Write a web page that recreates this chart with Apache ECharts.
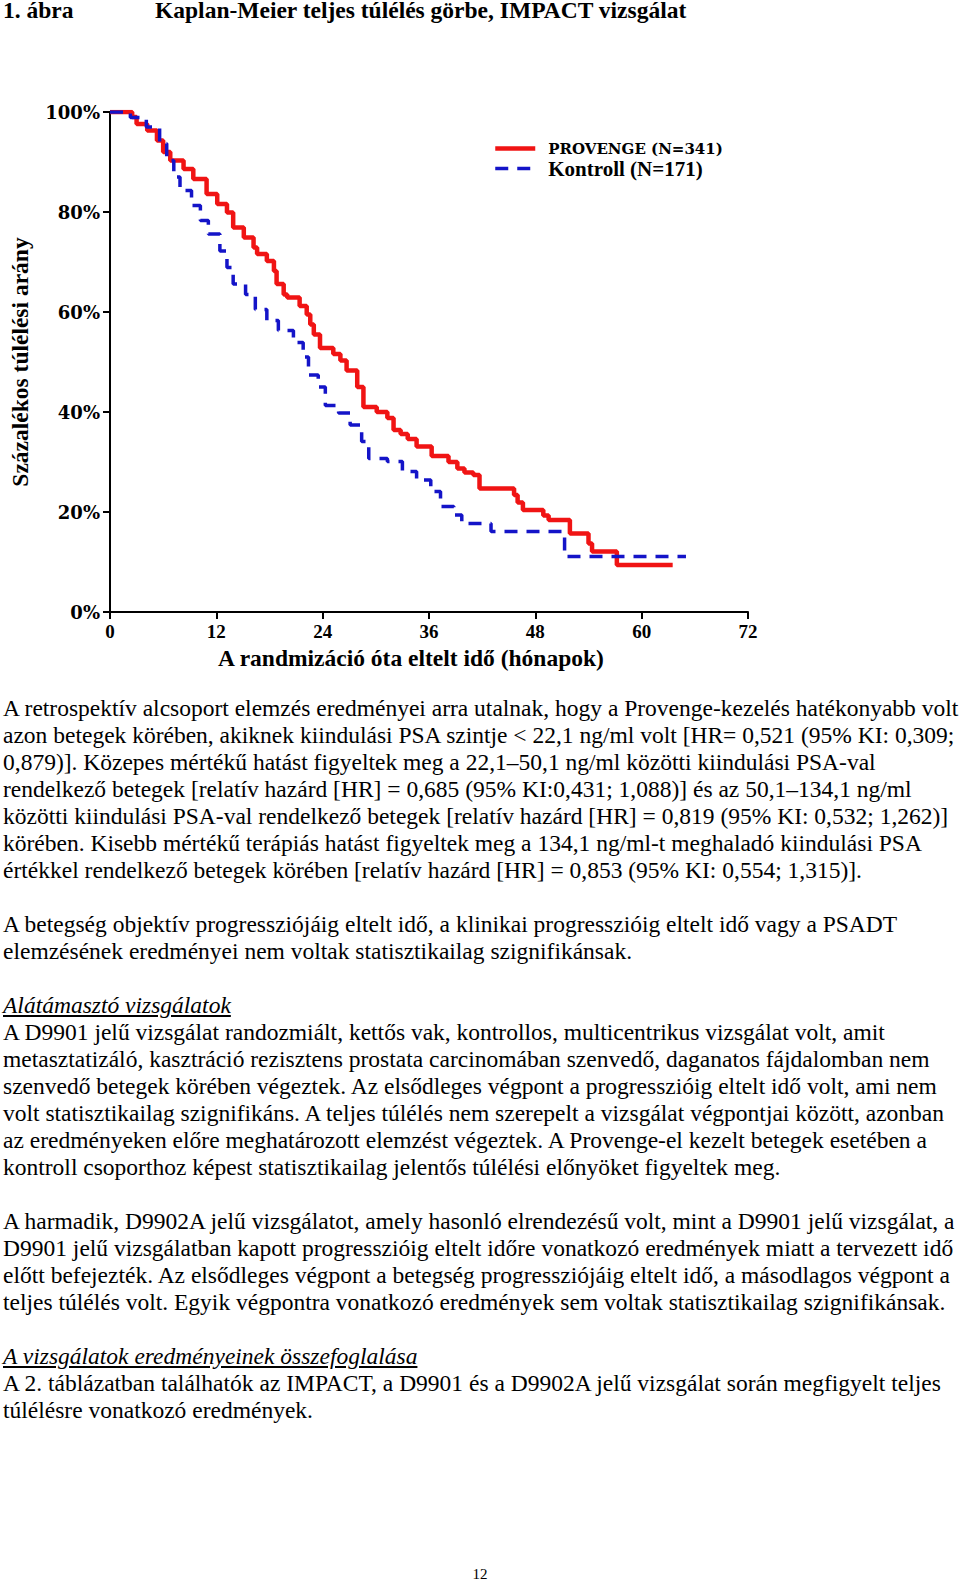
<!DOCTYPE html>
<html>
<head>
<meta charset="utf-8">
<script src="https://cdn.jsdelivr.net/npm/echarts@6/dist/echarts.min.js"></script>
<style>
html,body{margin:0;padding:0;background:#fff;}
body{width:960px;height:1592px;position:relative;overflow:hidden;font-family:"Liberation Serif","Times New Roman",serif;color:#000;}
#chart{position:absolute;left:0;top:0;width:960px;height:690px;}
.title{position:absolute;top:-3px;font-weight:bold;font-size:23.5px;line-height:27px;white-space:nowrap;}
#text{position:absolute;left:3px;top:694.5px;font-size:23.5px;line-height:27px;}
#text div{height:27px;white-space:nowrap;}
.h{font-style:italic;text-decoration:underline;}
#pnum{position:absolute;left:0;width:960px;text-align:center;top:1566px;font-size:15px;line-height:17px;}
</style>
</head>
<body>
<div id="chart"></div>
<div class="title" style="left:3px;">1. ábra</div>
<div class="title" style="left:155px;">Kaplan-Meier teljes túlélés görbe, IMPACT vizsgálat</div>
<div id="text">
<div>A retrospektív alcsoport elemzés eredményei arra utalnak, hogy a Provenge-kezelés hatékonyabb volt</div>
<div>azon betegek körében, akiknek kiindulási PSA szintje &lt; 22,1 ng/ml volt [HR= 0,521 (95% KI: 0,309;</div>
<div>0,879)]. Közepes mértékű hatást figyeltek meg a 22,1–50,1 ng/ml közötti kiindulási PSA-val</div>
<div>rendelkező betegek [relatív hazárd [HR] = 0,685 (95% KI:0,431; 1,088)] és az 50,1–134,1 ng/ml</div>
<div>közötti kiindulási PSA-val rendelkező betegek [relatív hazárd [HR] = 0,819 (95% KI: 0,532; 1,262)]</div>
<div>körében. Kisebb mértékű terápiás hatást figyeltek meg a 134,1 ng/ml-t meghaladó kiindulási PSA</div>
<div>értékkel rendelkező betegek körében [relatív hazárd [HR] = 0,853 (95% KI: 0,554; 1,315)].</div>
<div></div>
<div>A betegség objektív progressziójáig eltelt idő, a klinikai progresszióig eltelt idő vagy a PSADT</div>
<div>elemzésének eredményei nem voltak statisztikailag szignifikánsak.</div>
<div></div>
<div><span class="h">Alátámasztó vizsgálatok</span></div>
<div>A D9901 jelű vizsgálat randozmiált, kettős vak, kontrollos, multicentrikus vizsgálat volt, amit</div>
<div>metasztatizáló, kasztráció rezisztens prostata carcinomában szenvedő, daganatos fájdalomban nem</div>
<div>szenvedő betegek körében végeztek. Az elsődleges végpont a progresszióig eltelt idő volt, ami nem</div>
<div>volt statisztikailag szignifikáns. A teljes túlélés nem szerepelt a vizsgálat végpontjai között, azonban</div>
<div>az eredményeken előre meghatározott elemzést végeztek. A Provenge-el kezelt betegek esetében a</div>
<div>kontroll csoporthoz képest statisztikailag jelentős túlélési előnyöket figyeltek meg.</div>
<div></div>
<div>A harmadik, D9902A jelű vizsgálatot, amely hasonló elrendezésű volt, mint a D9901 jelű vizsgálat, a</div>
<div>D9901 jelű vizsgálatban kapott progresszióig eltelt időre vonatkozó eredmények miatt a tervezett idő</div>
<div>előtt befejezték. Az elsődleges végpont a betegség progressziójáig eltelt idő, a másodlagos végpont a</div>
<div>teljes túlélés volt. Egyik végpontra vonatkozó eredmények sem voltak statisztikailag szignifikánsak.</div>
<div></div>
<div><span class="h">A vizsgálatok eredményeinek összefoglalása</span></div>
<div>A 2. táblázatban találhatók az IMPACT, a D9901 és a D9902A jelű vizsgálat során megfigyelt teljes</div>
<div>túlélésre vonatkozó eredmények.</div>
</div>
<div id="pnum">12</div>
<script>
// ---- data ----
const seriesNames = ['PROVENGE (N=341)', 'Kontroll (N=171)'];
const xAxisTitle = 'A randmizáció óta eltelt idő (hónapok)';
const yAxisTitle = 'Százalékos túlélési arány';
const xTicks = [0, 12, 24, 36, 48, 60, 72];
const yTicks = [0, 20, 40, 60, 80, 100];

const provengeTime = [0, 2.5, 3.0, 4.2, 5.3, 6.0, 6.8, 8.3, 9.4, 10.9, 12.1, 13.2, 13.9, 15.1, 16.2, 16.6, 17.7, 18.5, 18.8, 19.6, 20.0, 21.4, 22.2, 22.6, 23.0, 23.7, 25.2, 26.0, 26.7, 27.9, 28.6, 30.1, 31.3, 32.0, 32.8, 33.6, 34.6, 36.3, 38.2, 39.2, 40.0, 41.0, 41.7, 45.6, 46.0, 46.6, 48.9, 49.5, 51.9, 54.0, 54.4, 57.2, 63.5];
const provengeSurv = [100, 99.0, 97.6, 96.3, 94.3, 92.0, 90.3, 88.6, 86.6, 83.6, 81.6, 79.9, 76.9, 74.9, 72.9, 71.6, 70.2, 68.2, 65.6, 63.5, 62.9, 61.2, 59.5, 57.5, 55.5, 52.8, 51.6, 50.3, 48.3, 45.0, 41.0, 40.0, 38.8, 36.4, 35.6, 34.6, 33.1, 31.2, 30.0, 28.7, 27.9, 27.4, 24.7, 23.4, 21.9, 20.4, 19.3, 18.4, 15.7, 13.7, 12.1, 9.4, 9.4];

const kontrollTime = [0, 2.3, 4.1, 5.6, 6.4, 7.2, 7.9, 9.2, 10.2, 11.1, 12.4, 13.2, 13.9, 15.3, 16.4, 17.7, 19.0, 20.7, 21.8, 22.4, 23.5, 24.3, 25.8, 27.1, 28.4, 29.2, 31.3, 33.0, 34.6, 36.2, 37.3, 38.8, 39.7, 43.0, 51.3, 65.0];
const kontrollSurv = [100, 98.9, 97.0, 93.7, 90.3, 87.0, 84.3, 81.3, 78.3, 75.6, 72.2, 68.9, 65.6, 63.5, 60.5, 58.3, 56.3, 53.9, 51.0, 47.4, 45.0, 41.3, 39.8, 37.4, 34.1, 30.7, 30.1, 28.1, 26.4, 24.1, 21.1, 19.4, 17.7, 16.1, 11.1, 11.1];

function zip(a, b) { return a.map((v, i) => [v, b[i]]); }

const chart = echarts.init(document.getElementById('chart'), null, { renderer: 'svg' });
const axisFontTitle = { fontFamily: 'Liberation Serif', fontWeight: 'bold', fontSize: 23.5, color: '#000' };
chart.setOption({
  animation: false,
  grid: { left: 110, top: 112, width: 638, height: 500 },
  legend: {
    orient: 'vertical', left: 488, top: 136, itemWidth: 40, itemHeight: 14, itemGap: 2,
    itemStyle: { opacity: 0, borderWidth: 0 },
    textStyle: { color: '#000', padding: [0, 0, 0, 8] },
    data: [
      { name: seriesNames[0], lineStyle: { width: 4.5 }, textStyle: { fontFamily: 'DejaVu Serif', fontWeight: 'bold', fontSize: 15, color: '#000', padding: [0, 0, 0, 8] } },
      { name: seriesNames[1], lineStyle: { width: 3.5 }, textStyle: { fontFamily: 'Liberation Serif', fontWeight: 'bold', fontSize: 21, color: '#000', padding: [0, 0, 0, 8] } }
    ]
  },
  xAxis: {
    type: 'value', min: xTicks[0], max: xTicks[xTicks.length - 1], interval: 12,
    name: xAxisTitle, nameLocation: 'middle', nameGap: 34,
    nameTextStyle: Object.assign({ padding: [0, 36, 0, 0] }, axisFontTitle),
    axisLine: { show: true, lineStyle: { color: '#000', width: 2 } },
    axisTick: { show: true, length: 7, lineStyle: { color: '#000', width: 2 } },
    axisLabel: { color: '#000', fontFamily: 'Liberation Serif', fontWeight: 'bold', fontSize: 19, margin: 10 },
    splitLine: { show: false }
  },
  yAxis: {
    type: 'value', min: yTicks[0], max: yTicks[yTicks.length - 1], interval: 20,
    name: yAxisTitle, nameLocation: 'middle', nameGap: 78,
    nameTextStyle: axisFontTitle,
    axisLine: { show: true, lineStyle: { color: '#000', width: 2 } },
    axisTick: { show: true, length: 7, lineStyle: { color: '#000', width: 2 } },
    axisLabel: { formatter: '{value}%', color: '#000', fontFamily: 'DejaVu Serif', fontWeight: 'bold', fontSize: 18, margin: 10 },
    splitLine: { show: false }
  },
  series: [
    {
      name: seriesNames[0], type: 'line', step: 'end', symbol: 'none', z: 2,
      data: zip(provengeTime, provengeSurv),
      lineStyle: { color: '#f01414', width: 4.5 }, itemStyle: { color: '#f01414' }
    },
    {
      name: seriesNames[1], type: 'line', step: 'end', symbol: 'none', z: 3,
      data: zip(kontrollTime, kontrollSurv),
      lineStyle: { color: '#1414c8', width: 3.5, type: [13, 9] }, itemStyle: { color: '#1414c8' }
    }
  ]
});
</script>
</body>
</html>
